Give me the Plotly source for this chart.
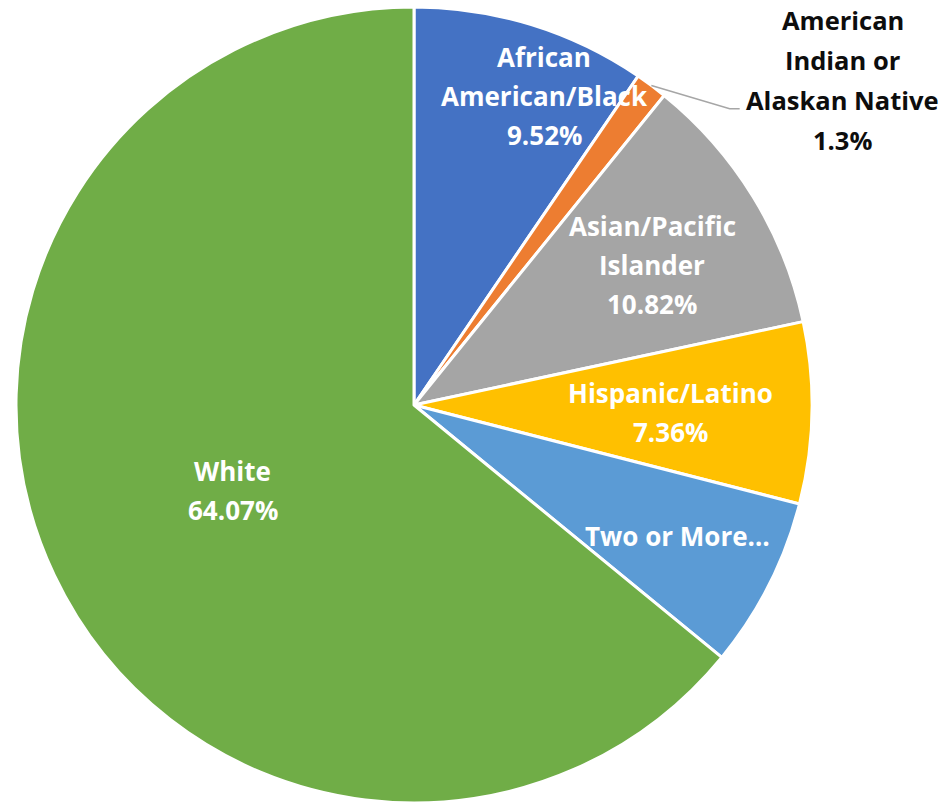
import math
import plotly.graph_objects as go

# Student enrollment by race/ethnicity (percent)
categories = [
    "African American/Black",
    "American Indian or Alaskan Native",
    "Asian/Pacific Islander",
    "Hispanic/Latino",
    "Two or More Races",
    "White",
]
values = [9.52, 1.3, 10.82, 7.36, 6.93, 64.07]
label_lines = [
    ["African", "American/Black"],
    ["American", "Indian or", "Alaskan Native"],
    ["Asian/Pacific", "Islander"],
    ["Hispanic/Latino"],
    ["Two or More…"],
    ["White"],
]
show_percent = [True, True, True, True, False, True]
colors = ["#4472C4", "#ED7D31", "#A5A5A5", "#FFC000", "#5B9BD5", "#70AD47"]

W, H = 947, 805
CX, CY, R = 414, 405, 398  # pie centre and radius in pixels

# label placement: (radius fraction, angular nudge in degrees, inside?)
label_place = [
    (0.842, 5.7, True),
    (1.352, 16.2, False),
    (0.694, 1.1, True),
    (0.644, 0.6, True),
    (0.740, -0.4, True),
    (0.504, 0.0, True),
]
LINE_H = 39

fig = go.Figure(
    go.Pie(
        labels=categories,
        values=values,
        sort=False,
        direction="clockwise",
        rotation=0,
        marker=dict(colors=colors, line=dict(color="white", width=3)),
        textinfo="none",
        hoverinfo="label+percent",
        domain=dict(x=[(CX - R) / W, (CX + R) / W], y=[1 - (CY + R) / H, 1 - (CY - R) / H]),
        showlegend=False,
    )
)

total = sum(values)
annotations = []
shapes = []
cum = 0.0
for cat, v, lines, with_pct, (frac, nudge, inside) in zip(
        categories, values, label_lines, show_percent, label_place):
    mid = (cum + v / 2) / total * 360.0
    cum += v
    ang = math.radians(mid + nudge)
    px = CX + R * frac * math.sin(ang)
    py = CY - R * frac * math.cos(ang)
    pct = f"{round(v / total * 100, 2):g}%"
    text_lines = lines + ([pct] if with_pct else [])
    n = len(text_lines)
    lh = LINE_H if inside else 40
    for i, t in enumerate(text_lines):
        ly = py + (i - (n - 1) / 2) * lh
        annotations.append(
            dict(
                x=px / W, y=1 - ly / H, xref="paper", yref="paper",
                text=t, showarrow=False, xanchor="center", yanchor="middle",
                font=dict(family="Open Sans", size=26 if inside else 25.5, weight=700,
                          color="white" if inside else "#0D0D0D"),
            )
        )
    if not inside:
        # leader line from the slice edge to the outside label
        ex = CX + R * math.sin(math.radians(mid))
        ey = CY - R * math.cos(math.radians(mid))
        tx = px - 103
        ty = py + (2 - (n - 1) / 2) * lh + 9
        path = (f"M {ex / W} {1 - ey / H} L {(tx - 10) / W} {1 - ty / H} "
                f"L {tx / W} {1 - ty / H}")
        shapes.append(dict(type="path", path=path, xref="paper", yref="paper",
                           line=dict(color="#A6A6A6", width=1.5)))

fig.update_layout(
    width=W, height=H,
    margin=dict(l=0, r=0, t=0, b=0),
    paper_bgcolor="white",
    plot_bgcolor="white",
    annotations=annotations,
    shapes=shapes,
)

fig.write_html("out.html")
